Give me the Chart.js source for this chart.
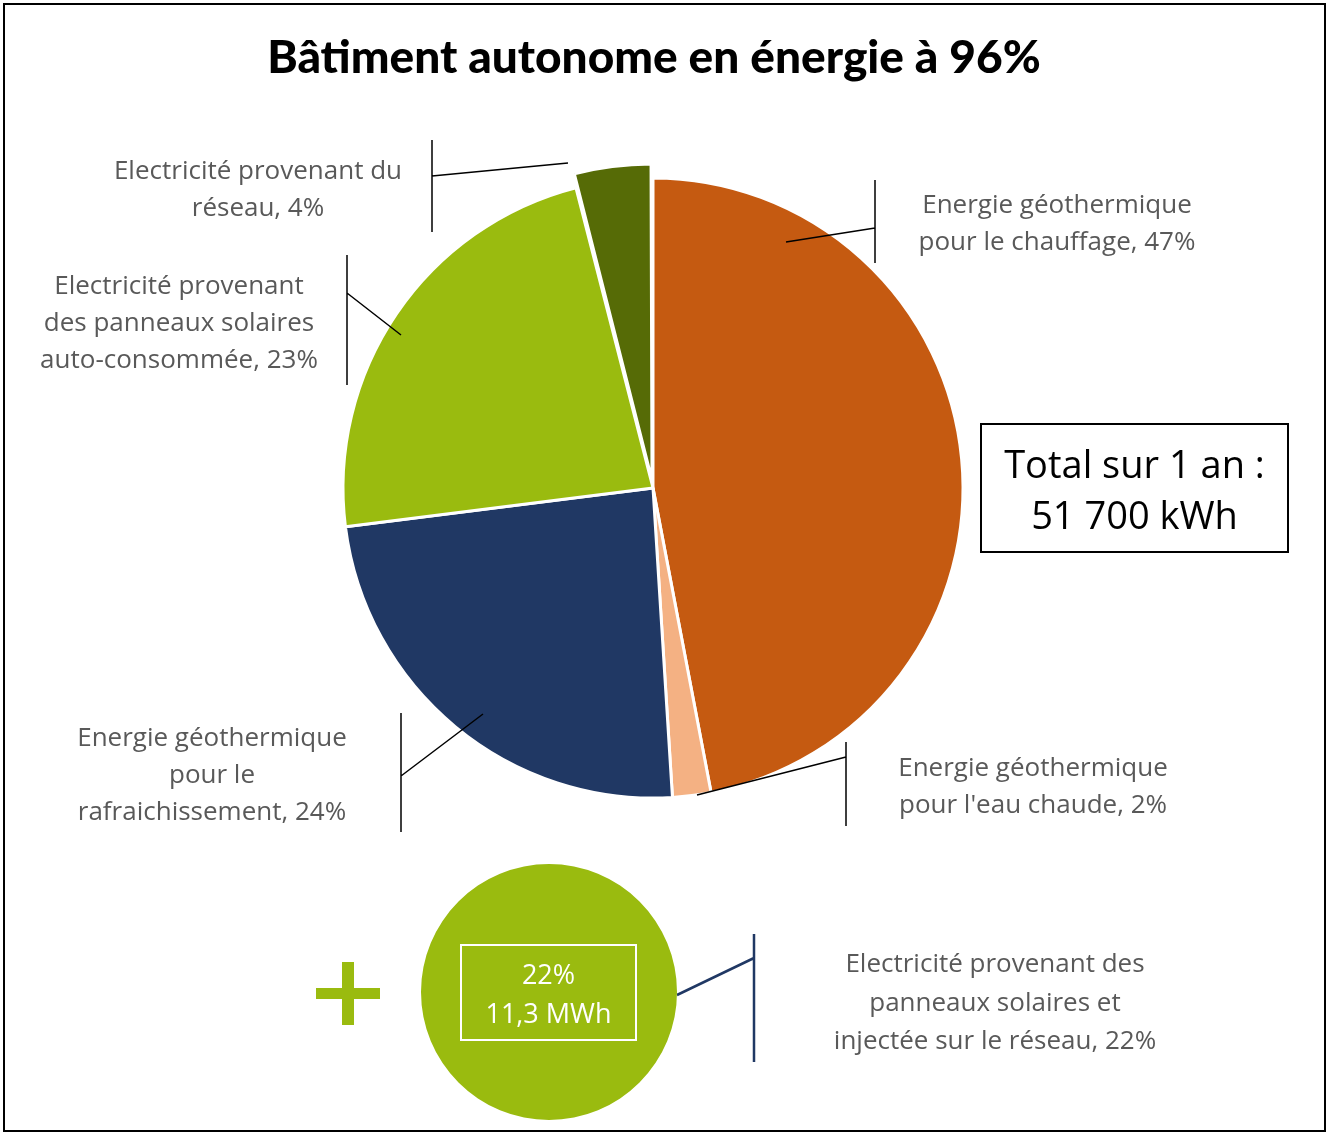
<!DOCTYPE html>
<html><head><meta charset="utf-8">
<script src="https://cdn.jsdelivr.net/npm/chart.js@4"></script>
<style>
body{margin:0;background:#fff;font-family:"Open Sans","Liberation Sans",sans-serif}
#page{position:relative;width:1332px;height:1136px}
#frame{position:absolute;left:3px;top:3px;width:1323px;height:1129px;border:2px solid #000;box-sizing:border-box}
#title{position:absolute;left:0;width:1308px;top:28px;text-align:center;font:900 46px Lato,sans-serif;color:#000}
.lab{position:absolute;text-align:center;color:#595959;font-size:26px;line-height:37px;white-space:nowrap}
#total{position:absolute;left:980px;top:423px;width:309px;height:130px;border:2px solid #000;box-sizing:border-box;
  text-align:center;font-size:38px;line-height:51px;padding-top:13px}
#inbox{position:absolute;left:460px;top:944px;width:177px;height:97px;border:2px solid #fff;box-sizing:border-box;
  color:#fff;text-align:center;font-size:27px;line-height:39px;padding-top:8px}
.plus{position:absolute;background:#9abb0f}
canvas{position:absolute}
</style></head>
<body><div id="page">
<div id="frame"></div>
<canvas id="pieChart" style="left:0;top:0;width:1332px;height:1136px"></canvas>
<canvas id="extraChart" style="left:413px;top:856px;width:272px;height:272px"></canvas>
<div id="title">Bâtiment autonome en énergie à 96%</div>
<div class="lab" style="left:58px;width:400px;top:151px">Electricité provenant du<br>réseau, 4%</div>
<div class="lab" style="left:857px;width:400px;top:185px">Energie géothermique<br>pour le chauffage, 47%</div>
<div class="lab" style="left:-21px;width:400px;top:266px">Electricité provenant<br>des panneaux solaires<br>auto-consommée, 23%</div>
<div class="lab" style="left:12px;width:400px;top:718px">Energie géothermique<br>pour le<br>rafraichissement, 24%</div>
<div class="lab" style="left:833px;width:400px;top:748px">Energie géothermique<br>pour l'eau chaude, 2%</div>
<div class="lab" style="left:795px;width:400px;top:943px;line-height:38.5px">Electricité provenant des<br>panneaux solaires et<br>injectée sur le réseau, 22%</div>
<div id="total">Total sur 1 an :<br>51 700 kWh</div>
<div class="plus" style="left:316px;top:988px;width:64px;height:11px"></div>
<div class="plus" style="left:342px;top:962px;width:12px;height:63px"></div>
<div id="inbox">22%<br>11,3 MWh</div>
</div>
<script>
const labels = [
  "Energie géothermique pour le chauffage",
  "Energie géothermique pour l'eau chaude",
  "Energie géothermique pour le rafraichissement",
  "Electricité provenant des panneaux solaires auto-consommée",
  "Electricité provenant du réseau",
];
const shares = [47, 2, 24, 23, 4];
const colors = ["#c55a11", "#f4b183", "#203864", "#9abb0f", "#566b06"];
const injectedShare = [22];

// leader lines next to the labels: [x1, y1, x2, y2, barX, barTop, barBottom]
const leaders = [
  [568, 163, 432, 176, 432, 140, 232],
  [786, 242, 875, 228, 875, 180, 263],
  [401, 335, 347, 293, 347, 255, 385],
  [483, 714, 401, 776, 401, 713, 832],
  [697, 795, 846, 757, 846, 742, 826],
];

const leaderLines = {
  id: "leaderLines",
  afterDraw(chart) {
    const ctx = chart.ctx;
    ctx.save();
    ctx.strokeStyle = "#000";
    ctx.lineWidth = 1.5;
    for (const [x1, y1, x2, y2, bx, bt, bb] of leaders) {
      ctx.beginPath();
      ctx.moveTo(x1, y1); ctx.lineTo(x2, y2);
      ctx.moveTo(bx, bt); ctx.lineTo(bx, bb);
      ctx.stroke();
    }
    ctx.strokeStyle = "#203864";
    ctx.lineWidth = 2.5;
    ctx.beginPath();
    ctx.moveTo(677, 995); ctx.lineTo(754, 958);
    ctx.moveTo(754, 934); ctx.lineTo(754, 1062);
    ctx.stroke();
    ctx.restore();
  },
};

new Chart(document.getElementById("pieChart"), {
  type: "pie",
  data: {
    labels: labels,
    datasets: [{
      data: shares,
      backgroundColor: colors,
      borderColor: "#fff",
      borderWidth: 3,
      offset: [0, 0, 0, 0, 32],
    }],
  },
  options: {
    responsive: false,
    animation: false,
    radius: 310,
    layout: { padding: { left: 313, right: 339, top: 148, bottom: 308 } },
    plugins: { legend: { display: false }, tooltip: { enabled: false } },
  },
  plugins: [leaderLines],
});

new Chart(document.getElementById("extraChart"), {
  type: "pie",
  data: {
    labels: ["Electricité provenant des panneaux solaires injectée sur le réseau"],
    datasets: [{ data: injectedShare, backgroundColor: ["#9abb0f"], borderWidth: 0 }],
  },
  options: {
    responsive: false,
    animation: false,
    radius: 128,
    plugins: { legend: { display: false }, tooltip: { enabled: false } },
  },
});
</script>
</body></html>
